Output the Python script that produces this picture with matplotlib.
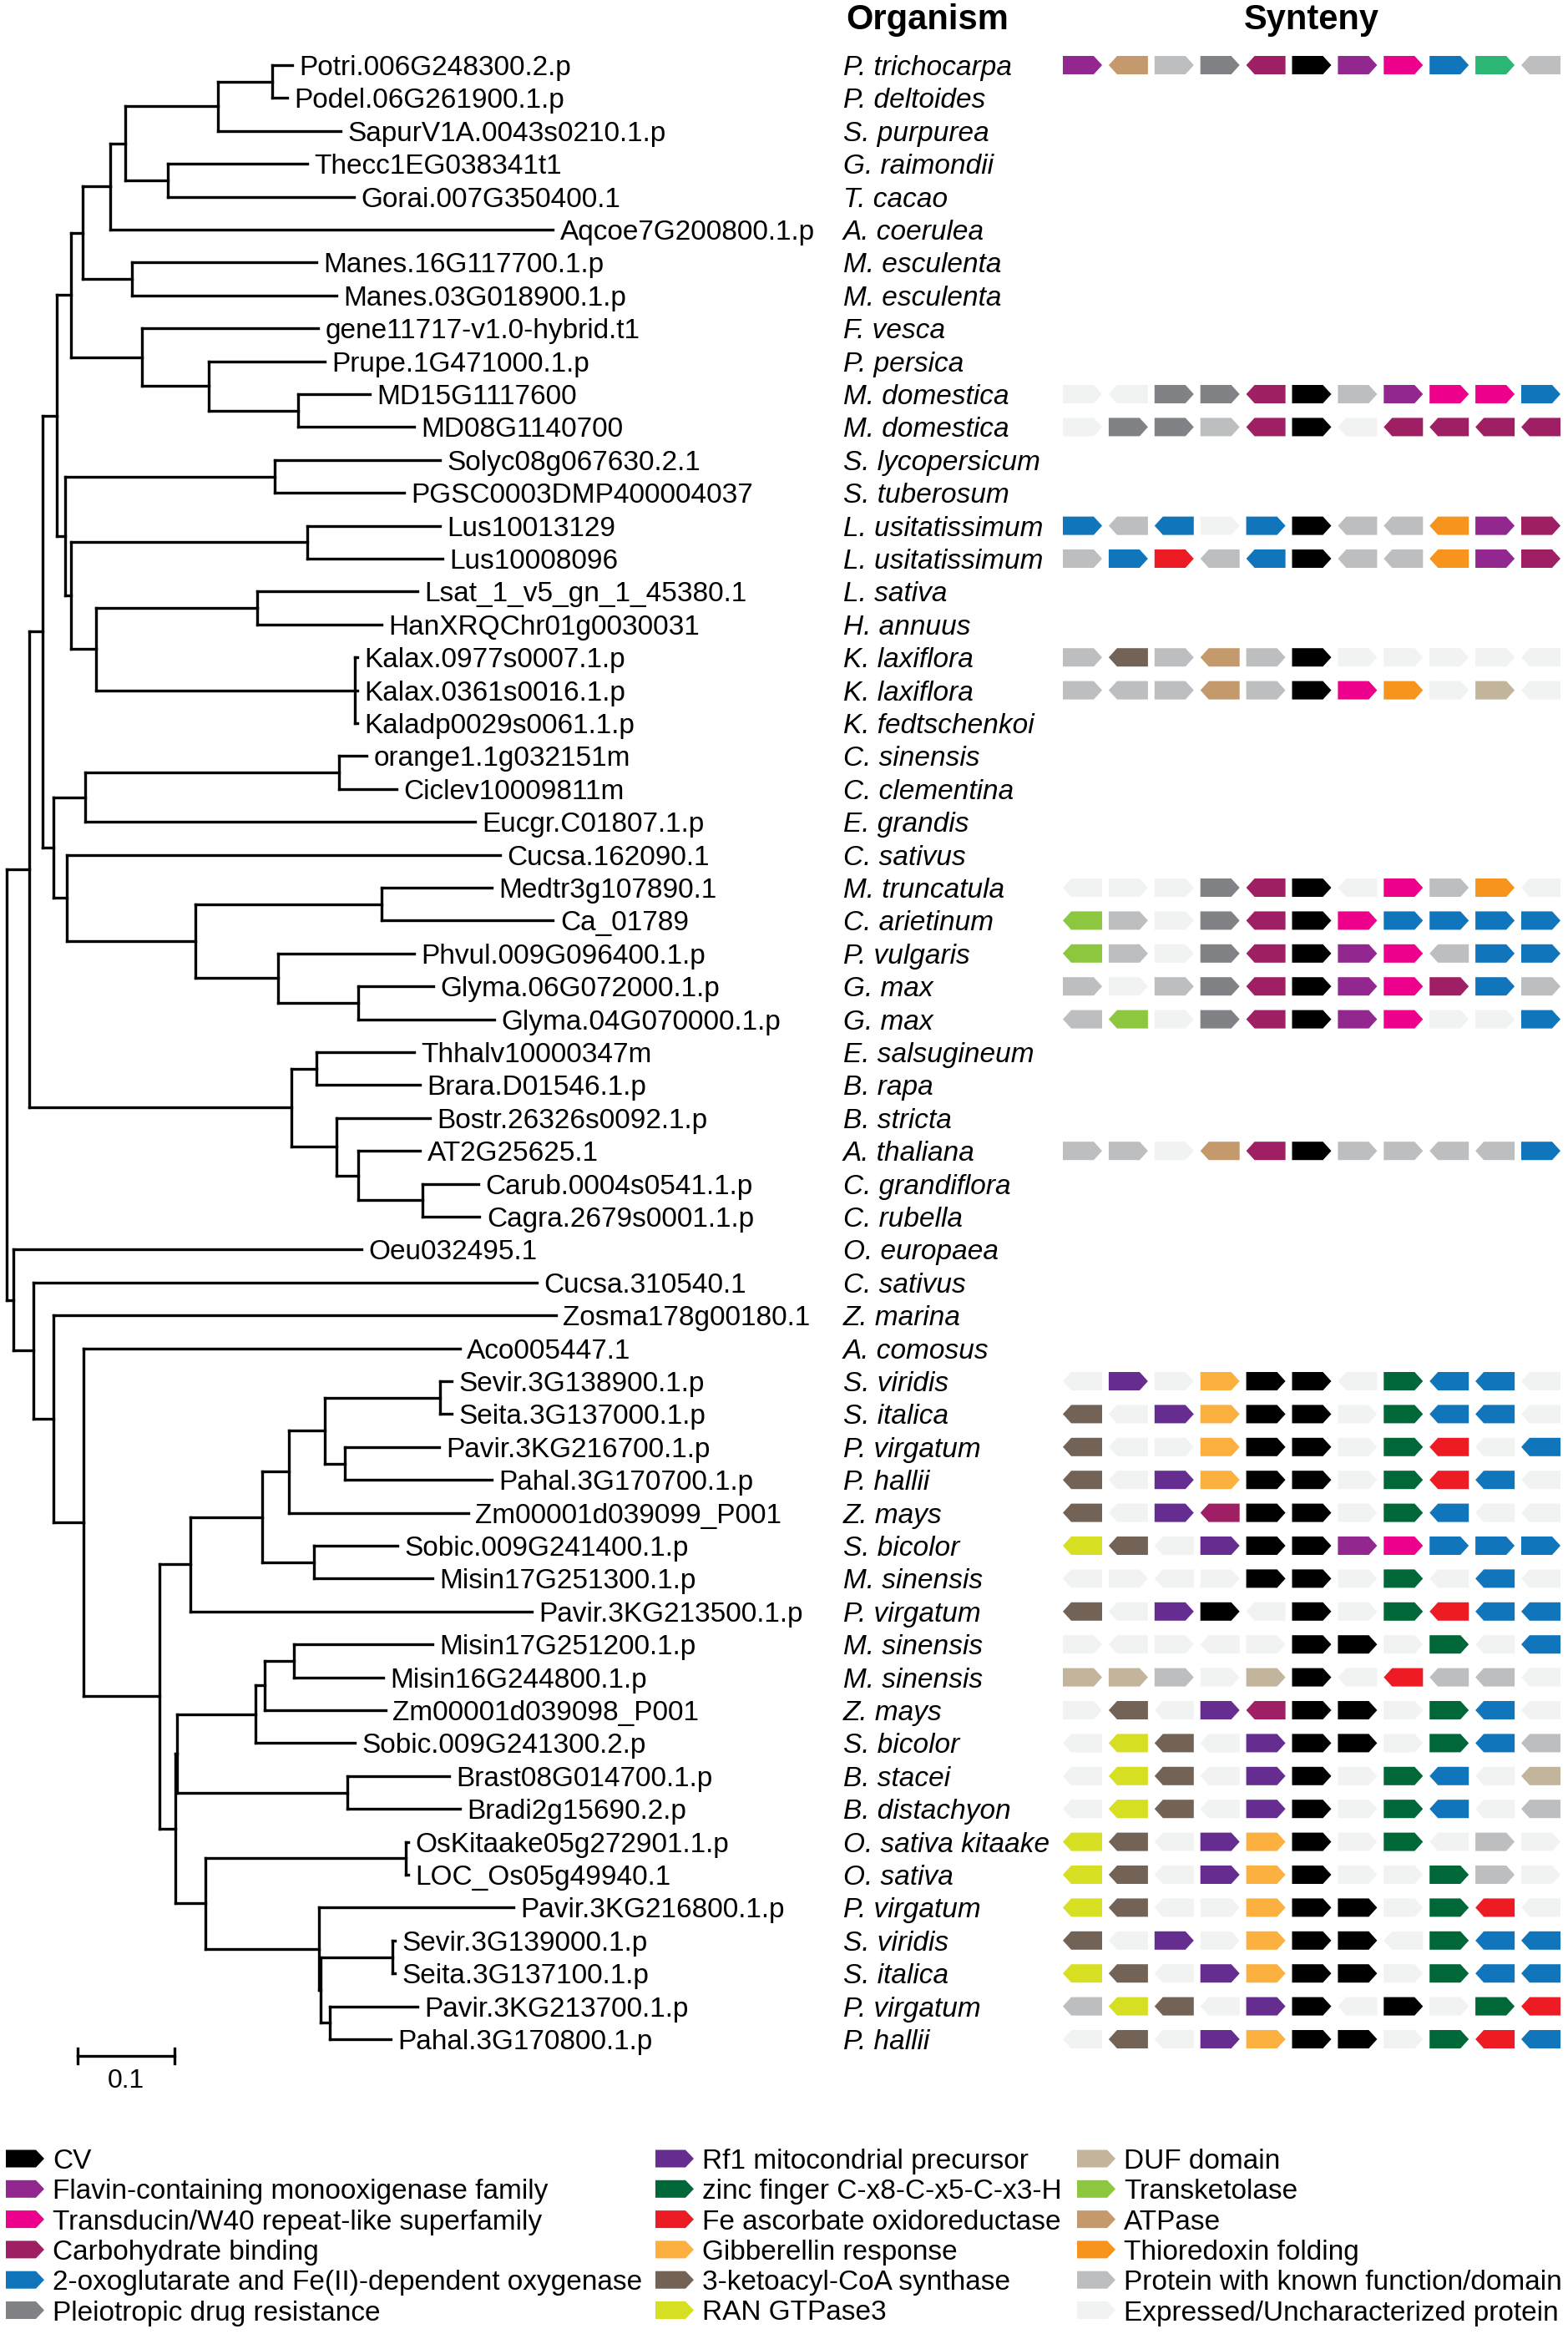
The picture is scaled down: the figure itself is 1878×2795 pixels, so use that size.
import matplotlib
matplotlib.use("Agg")
import matplotlib.pyplot as plt
from matplotlib.patches import Polygon
from matplotlib.collections import LineCollection
from matplotlib.transforms import blended_transform_factory

plt.rcParams['font.family'] = ['Liberation Sans', 'DejaVu Sans']

# ---------------- data ----------------
# tree, branch lengths in substitutions/site
NEWICK = (
    "(((((((("
    "((Potri.006G248300.2.p:0.0208,Podel.06G261900.1.p:0.0154):0.0560,SapurV1A.0043s0210.1.p:0.1263):0.0961,"
    "(Thecc1EG038341t1:0.1444,Gorai.007G350400.1:0.1922):0.0439"
    "):0.0154,Aqcoe7G200800.1.p:0.4574"
    "):0.0286,(Manes.16G117700.1.p:0.1906,Manes.03G018900.1.p:0.2109):0.0511"
    "):0.0121,(gene11717-v1.0-hybrid.t1:0.1818,(Prupe.1G471000.1.p:0.1197,(MD15G1117600:0.0742,MD08G1140700:0.1198):0.0922):0.0687):0.0736"
    "):0.0142,"
    "((Solyc08g067630.2.1:0.1708,PGSC0003DMP400004037:0.1335):0.2169,"
    "((Lus10013129:0.1378,Lus10008096:0.1400):0.2439,"
    "((Lsat_1_v5_gn_1_45380.1:0.1658,HanXRQChr01g0030031:0.1290):0.1664,"
    "(Kalax.0977s0007.1.p:0.0022,Kalax.0361s0016.1.p:0.0022,Kaladp0029s0061.1.p:0.0022):0.2679):0.0259"
    "):0.0060):0.0082"
    "):0.0149,"
    "(((orange1.1g032151m:0.0285,Ciclev10009811m:0.0587):0.2625,Eucgr.C01807.1.p:0.4025):0.0330,"
    "(Cucsa.162090.1:0.4475,((Medtr3g107890.1:0.1137,Ca_01789:0.1768):0.1922,"
    "(Phvul.009G096400.1.p:0.1401,(Glyma.06G072000.1.p:0.0780,Glyma.04G070000.1.p:0.1411):0.0824):0.0851):0.1334):0.0138"
    "):0.0110"
    "):0.0137,"
    "((Thhalv10000347m:0.1005,Brara.D01546.1.p:0.1070):0.0259,(Bostr.26326s0092.1.p:0.0961,"
    "(AT2G25625.1:0.0642,(Carub.0004s0541.1.p:0.0576,Cagra.2679s0001.1.p:0.0587):0.0670):0.0220):0.0467):0.2707"
    "):0.0236,"
    "(Oeu032495.1:0.3597,(Cucsa.310540.1:0.5206,(Zosma178g00180.1:0.5190,(Aco005447.1:0.3888,"
    "("
    "(((((Sevir.3G138900.1.p:0.0121,Seita.3G137000.1.p:0.0121):0.1197,"
    "(Pavir.3KG216700.1.p:0.0972,Pahal.3G170700.1.p:0.1521):0.0209):0.0368,Zm00001d039099_P001:0.1851):0.0275,"
    "(Sobic.009G241400.1.p:0.0868,Misin17G251300.1.p:0.1225):0.0533):0.0741,Pavir.3KG213500.1.p:0.3526):0.0318,"
    "(((((Misin17G251200.1.p:0.1434,Misin16G244800.1.p:0.0923):0.0296,Zm00001d039098_P001:0.1246):0.0099,"
    "Sobic.009G241300.2.p:0.1032):0.0807,(Brast08G014700.1.p:0.1054,Bradi2g15690.2.p:0.1164):0.1757):0.0017,"
    "((OsKitaake05g272901.1.p:0.0028,LOC_Os05g49940.1:0.0028):0.2065,(Pavir.3KG216800.1.p:0.2004,"
    "((Sevir.3G139000.1.p:0.0022,Seita.3G137100.1.p:0.0022):0.0742,"
    "(Pavir.3KG213700.1.p:0.0906,Pahal.3G170800.1.p:0.0631):0.0094):0.0016):0.1170):0.0313):0.0164"
    "):0.0786):0.0313):0.0208):0.0204):0.0071"
    ");"
)

organisms = [
    "P. trichocarpa", "P. deltoides", "S. purpurea", "G. raimondii", "T. cacao",
    "A. coerulea", "M. esculenta", "M. esculenta", "F. vesca", "P. persica",
    "M. domestica", "M. domestica", "S. lycopersicum", "S. tuberosum",
    "L. usitatissimum", "L. usitatissimum", "L. sativa", "H. annuus",
    "K. laxiflora", "K. laxiflora", "K. fedtschenkoi", "C. sinensis",
    "C. clementina", "E. grandis", "C. sativus", "M. truncatula",
    "C. arietinum", "P. vulgaris", "G. max", "G. max", "E. salsugineum",
    "B. rapa", "B. stricta", "A. thaliana", "C. grandiflora", "C. rubella",
    "O. europaea", "C. sativus", "Z. marina", "A. comosus", "S. viridis",
    "S. italica", "P. virgatum", "P. hallii", "Z. mays", "S. bicolor",
    "M. sinensis", "P. virgatum", "M. sinensis", "M. sinensis", "Z. mays",
    "S. bicolor", "B. stacei", "B. distachyon", "O. sativa kitaake",
    "O. sativa", "P. virgatum", "S. viridis", "S. italica", "P. virgatum",
    "P. hallii",
]

gene_colors = {
    "CV": "#000000", "FMO": "#92278F", "TRD": "#EC008C", "CBM": "#9E1F63",
    "OXO": "#1075BB", "PDR": "#808285", "RF1": "#662D91", "ZNF": "#006838",
    "FEA": "#ED1C24", "GIB": "#FBB040", "KCS": "#736357", "RAN": "#D7DF23",
    "DUF": "#C2B59B", "TKT": "#8DC63F", "ATP": "#C49A6C", "TRX": "#F7941D",
    "KNW": "#BCBEC0", "UNK": "#F1F2F2", "GRN": "#2BB673",
}

legend_labels = [
    ["CV", "CV"],
    ["FMO", "Flavin-containing monooxigenase family"],
    ["TRD", "Transducin/W40 repeat-like superfamily"],
    ["CBM", "Carbohydrate binding"],
    ["OXO", "2-oxoglutarate and Fe(II)-dependent oxygenase"],
    ["PDR", "Pleiotropic drug resistance"],
    ["RF1", "Rf1 mitocondrial precursor"],
    ["ZNF", "zinc finger C-x8-C-x5-C-x3-H"],
    ["FEA", "Fe ascorbate oxidoreductase"],
    ["GIB", "Gibberellin response"],
    ["KCS", "3-ketoacyl-CoA synthase"],
    ["RAN", "RAN GTPase3"],
    ["DUF", "DUF domain"],
    ["TKT", "Transketolase"],
    ["ATP", "ATPase"],
    ["TRX", "Thioredoxin folding"],
    ["KNW", "Protein with known function/domain"],
    ["UNK", "Expressed/Uncharacterized protein"],
]

# gene neighbourhood, '>' forward strand, '<' reverse strand
synteny = {
    "Potri.006G248300.2.p": "FMO> ATP< KNW> PDR> CBM< CV> FMO> TRD> OXO> GRN> KNW<",
    "MD15G1117600": "UNK> UNK< PDR> PDR> CBM< CV> KNW> FMO> TRD> TRD> OXO>",
    "MD08G1140700": "UNK> PDR> PDR> KNW> CBM< CV> UNK< CBM< CBM< CBM< CBM<",
    "Lus10013129": "OXO> KNW< OXO< UNK> OXO> CV> KNW< KNW< TRX< FMO> CBM>",
    "Lus10008096": "KNW> OXO> FEA> KNW< OXO< CV> KNW< KNW< TRX< FMO> CBM>",
    "Kalax.0977s0007.1.p": "KNW> KCS< KNW> ATP< KNW> CV> UNK> UNK> UNK> UNK> UNK<",
    "Kalax.0361s0016.1.p": "KNW> KNW< KNW> ATP< KNW> CV> TRD> TRX> UNK> DUF> UNK<",
    "Medtr3g107890.1": "UNK< UNK> UNK> PDR> CBM< CV> UNK< TRD> KNW> TRX> UNK<",
    "Ca_01789": "TKT< KNW> UNK> PDR> CBM< CV> TRD> OXO> OXO> OXO> OXO>",
    "Phvul.009G096400.1.p": "TKT< KNW> UNK> PDR> CBM< CV> FMO> TRD> KNW< OXO> OXO>",
    "Glyma.06G072000.1.p": "KNW> UNK> KNW> PDR> CBM< CV> FMO> TRD> CBM> OXO> KNW>",
    "Glyma.04G070000.1.p": "KNW< TKT< UNK> PDR> CBM< CV> FMO> TRD> UNK> UNK> OXO>",
    "AT2G25625.1": "KNW> KNW> UNK> ATP< CBM< CV> KNW> KNW> KNW< KNW< OXO>",
    "Sevir.3G138900.1.p": "UNK< RF1> UNK> GIB> CV> CV> UNK< ZNF> OXO< OXO< UNK<",
    "Seita.3G137000.1.p": "KCS< UNK< RF1> GIB> CV> CV> UNK> ZNF> OXO< OXO< UNK<",
    "Pavir.3KG216700.1.p": "KCS< UNK< UNK> GIB> CV> CV> UNK> ZNF> FEA< UNK< OXO<",
    "Pahal.3G170700.1.p": "KCS< UNK< RF1> GIB> CV> CV> UNK> ZNF> FEA< OXO< UNK<",
    "Zm00001d039099_P001": "KCS< UNK< RF1> CBM< CV> CV> UNK> ZNF> OXO< UNK< UNK<",
    "Sobic.009G241400.1.p": "RAN< KCS< UNK< RF1> CV> CV> FMO> TRD> OXO> OXO> OXO>",
    "Misin17G251300.1.p": "UNK< UNK> UNK< UNK> CV> CV> UNK> ZNF> UNK< OXO< UNK<",
    "Pavir.3KG213500.1.p": "KCS< UNK< RF1> CV> UNK< CV> UNK> ZNF> FEA< OXO< OXO<",
    "Misin17G251200.1.p": "UNK> UNK< UNK> UNK< UNK> CV> CV> UNK> ZNF> UNK< OXO<",
    "Misin16G244800.1.p": "DUF> DUF> KNW> UNK> DUF> CV> UNK< FEA< KNW< KNW< UNK<",
    "Zm00001d039098_P001": "UNK> KCS< UNK< RF1> CBM< CV> CV> UNK> ZNF> OXO< UNK<",
    "Sobic.009G241300.2.p": "UNK< RAN< KCS< UNK< RF1> CV> CV> UNK> ZNF> OXO< KNW<",
    "Brast08G014700.1.p": "UNK< RAN< KCS< UNK< RF1> CV> UNK> ZNF> OXO< UNK< DUF<",
    "Bradi2g15690.2.p": "UNK< RAN< KCS< UNK< RF1> CV> UNK> ZNF> OXO< UNK< KNW<",
    "OsKitaake05g272901.1.p": "RAN< KCS< UNK< RF1> GIB> CV> UNK> ZNF> UNK< KNW> UNK>",
    "LOC_Os05g49940.1": "RAN< KCS< UNK< RF1> GIB> CV> UNK> UNK> ZNF> KNW> UNK>",
    "Pavir.3KG216800.1.p": "RAN< KCS< UNK< UNK> GIB> CV> CV> UNK> ZNF> FEA< UNK<",
    "Sevir.3G139000.1.p": "KCS< UNK< RF1> UNK> GIB> CV> CV> UNK< ZNF> OXO< OXO<",
    "Seita.3G137100.1.p": "RAN< KCS< UNK< RF1> GIB> CV> CV> UNK> ZNF> OXO< OXO<",
    "Pavir.3KG213700.1.p": "KNW< RAN< KCS< UNK< RF1> CV> UNK< CV> UNK> ZNF> FEA<",
    "Pahal.3G170800.1.p": "UNK< KCS< UNK< RF1> GIB> CV> CV> UNK> ZNF> FEA< OXO<",
}


# ---------------- newick ----------------
def parse_newick(s):
    pos = 0

    def node():
        nonlocal pos
        kids = []
        if s[pos] == '(':
            pos += 1
            while True:
                kids.append(node())
                if s[pos] == ',':
                    pos += 1
                    continue
                pos += 1
                break
        start = pos
        while s[pos] not in ':,);':
            pos += 1
        name = s[start:pos]
        length = 0.0
        if s[pos] == ':':
            pos += 1
            start = pos
            while s[pos] not in ',);':
                pos += 1
            length = float(s[start:pos])
        return {'name': name, 'len': length, 'kids': kids}

    return node()


tree = parse_newick(NEWICK)
tips = []


def layout(nd, depth):
    nd['x'] = depth + nd['len']
    if not nd['kids']:
        nd['y'] = len(tips)
        tips.append(nd)
    else:
        for k in nd['kids']:
            layout(k, nd['x'])
        nd['y'] = (nd['kids'][0]['y'] + nd['kids'][-1]['y']) / 2


layout(tree, 0.0)
assert len(tips) == len(organisms), len(tips)

# ---------------- figure ----------------
W, H = 1878, 2795
fig = plt.figure(figsize=(W / 100, H / 100), dpi=100)

px_per_unit = 1160.0
row_px = 39.4
row0_px = 78.0
main_bottom_px = 2540.0
root_px = 7.6


def vpos(top_px, bot_px):
    return 1 - bot_px / H, (bot_px - top_px) / H


b, h = vpos(0, main_bottom_px)
ylim = ((main_bottom_px - row0_px) / row_px, (0 - row0_px) / row_px)

ax = fig.add_axes([0, b, 1000 / W, h])
ax.set_xlim(-root_px / px_per_unit, (1000 - root_px) / px_per_unit)
ax.set_ylim(*ylim)
ax.axis('off')

segs = []


def collect(nd):
    if nd['kids']:
        segs.append([(nd['x'], nd['kids'][0]['y']), (nd['x'], nd['kids'][-1]['y'])])
        for k in nd['kids']:
            segs.append([(nd['x'], k['y']), (k['x'], k['y'])])
            collect(k)


collect(tree)
ax.add_collection(LineCollection(segs, colors='black', linewidths=2.4,
                                 capstyle='projecting'))

for t in tips:
    ax.annotate(t['name'], (t['x'], t['y']), xytext=(6, 0),
                textcoords='offset points', va='center_baseline', ha='left',
                fontsize=24)

# scale bar
sb_x = (93 - root_px) / px_per_unit
sb_y = (2462 - row0_px) / row_px
ax.plot([sb_x, sb_x + 0.1], [sb_y, sb_y], color='black', lw=2.4)
for xx in (sb_x, sb_x + 0.1):
    ax.plot([xx, xx], [sb_y - 0.22, sb_y + 0.22], color='black', lw=2.4)
ax.text(sb_x + 0.05, sb_y + 0.75, "0.1", ha='center', va='center', fontsize=23)

# organism column + synteny
slot_px = 54.9
slot0_px = 1296.5
sx = fig.add_axes([1230 / W, b, (W - 1230) / W, h])
sx.set_xlim((1230 - slot0_px) / slot_px, (W - slot0_px) / slot_px)
sx.set_ylim(*ylim)
sx.axis('off')

org_tr = blended_transform_factory(fig.transFigure, sx.transData)
for i, org in enumerate(organisms):
    sx.text(1010 / W, i, org, transform=org_tr, style='italic', fontsize=24,
            va='center_baseline', ha='left', clip_on=False)

fig.text(1013 / W, 1 - 24 / H, "Organism", fontsize=30, fontweight='bold',
         va='center', ha='left')
fig.text((slot0_px + 5 * slot_px) / W, 1 - 24 / H, "Synteny", fontsize=30,
         fontweight='bold', va='center', ha='center')


def arrow(axis, cx, cy, width, tip, half, forward, color):
    l, r = cx - width / 2, cx + width / 2
    if forward:
        pts = [(l, cy - half), (r - tip, cy - half), (r, cy),
               (r - tip, cy + half), (l, cy + half)]
    else:
        pts = [(r, cy - half), (l + tip, cy - half), (l, cy),
               (l + tip, cy + half), (r, cy + half)]
    axis.add_patch(Polygon(pts, closed=True, facecolor=color,
                           edgecolor='none'))


row_of = {t['name']: t['y'] for t in tips}
for gene, track in synteny.items():
    y = row_of[gene]
    for i, tok in enumerate(track.split()):
        arrow(sx, i, y, 47 / slot_px, 10 / slot_px, 11 / row_px,
              tok.endswith('>'), gene_colors[tok[:-1]])

# legend
leg_top = 2550
lrow_px = 36.3
lrow0_px = 2585
lb, lh = vpos(leg_top, H)
lx = fig.add_axes([0, lb, 1, lh])
lx.set_xlim(0, W)
lx.set_ylim((H - lrow0_px) / lrow_px, (leg_top - lrow0_px) / lrow_px)
lx.axis('off')
col_px = [7, 785, 1290]
for j, (code, label) in enumerate(legend_labels):
    c, r = divmod(j, 6)
    arrow(lx, col_px[c] + 23, r, 46, 10, 10.5 / lrow_px, True, gene_colors[code])
    lx.text(col_px[c] + 56, r, label, fontsize=24, va='center_baseline',
            ha='left')

fig.savefig("out.png", dpi=100, facecolor='white')
